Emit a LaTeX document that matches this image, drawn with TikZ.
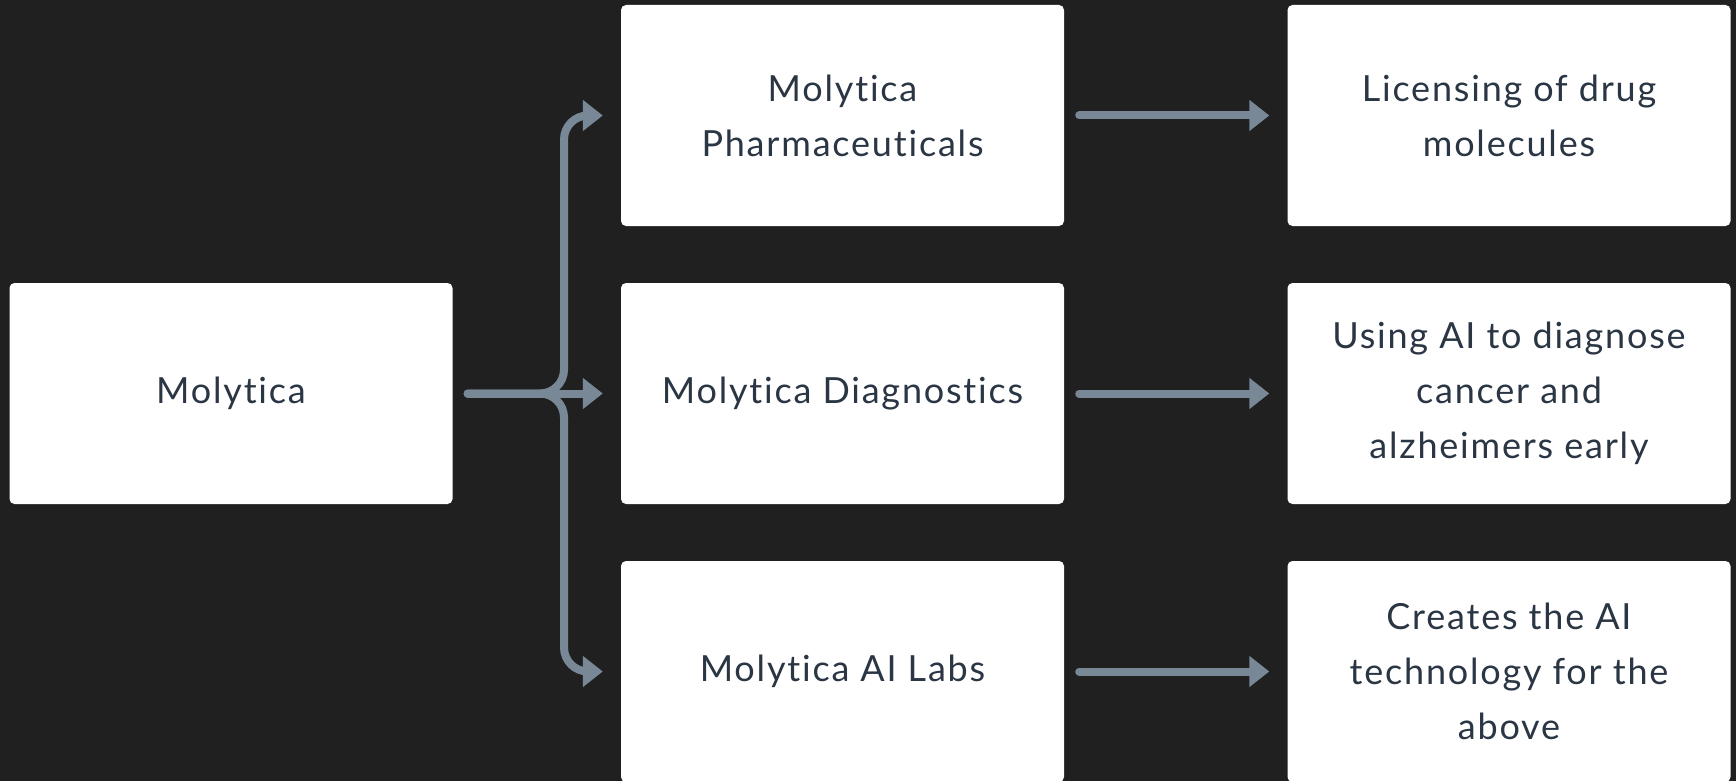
\documentclass[tikz,border=0pt]{standalone}
\usepackage{fontspec}
\setmainfont{Lato}[LetterSpace=5,Ligatures={NoCommon}]
\usetikzlibrary{arrows.meta}
\definecolor{bg}{HTML}{202020}
\definecolor{txt}{HTML}{2B3644}
\definecolor{arr}{HTML}{798897}
\begin{document}
\begin{tikzpicture}[x=1pt,y=-1pt,
  box/.style={rectangle, fill=white, rounded corners=5pt, minimum width=443pt, minimum height=221pt,
    text=txt, align=center, inner sep=0pt, font=\fontsize{36}{55}\selectfont},
  conn/.style={draw=arr, line width=8pt, line cap=round, rounded corners=24pt,
    -{Triangle[length=20pt,width=30pt]}}]
\fill[bg] (0,0) rectangle (1736,781);
\useasboundingbox (0,0) rectangle (1736,781);
\node[box] (root) at (231,393.5) {Molytica};
\node[box] (pharma) at (842.5,115.5) {Molytica\\Pharmaceuticals};
\node[box] (diag) at (842.5,393.5) {Molytica Diagnostics};
\node[box] (labs) at (842.5,671.5) {Molytica AI Labs};
\node[box] (lic) at (1509,115.5) {Licensing of drug\\molecules};
\node[box] (use) at (1509,393.5) {Using AI to diagnose\\cancer and\\alzheimers early};
\node[box] (cre) at (1509,671.5) {Creates the AI\\technology for the\\above};
\coordinate (s) at ([xshift=15pt]root.east);
\coordinate (f) at (564,393.5);
\draw[conn] (s) -- ([xshift=-18pt]diag.west);
\draw[conn] (s) -- (f) -- (f |- pharma.west) -- ([xshift=-18pt]pharma.west);
\draw[conn] (s) -- (f) -- (f |- labs.west) -- ([xshift=-18pt]labs.west);
\draw[conn] ([xshift=15pt]pharma.east) -- ([xshift=-18pt]lic.west);
\draw[conn] ([xshift=15pt]diag.east) -- ([xshift=-18pt]use.west);
\draw[conn] ([xshift=15pt]labs.east) -- ([xshift=-18pt]cre.west);
\end{tikzpicture}
\end{document}
